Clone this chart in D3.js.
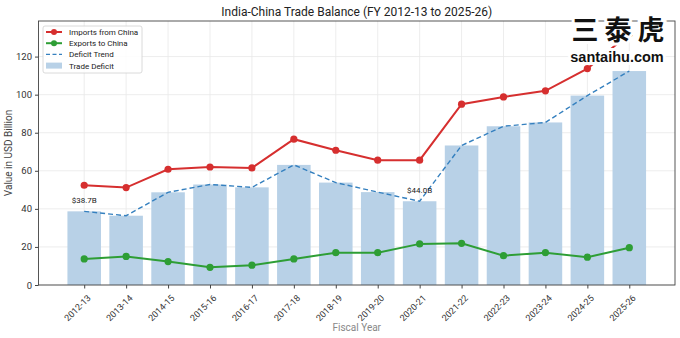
<!DOCTYPE html>
<html><head><meta charset="utf-8">
<script src="https://cdn.jsdelivr.net/npm/d3@7"></script>
<style>body{margin:0;background:#fff}svg{display:block;font-family:Roboto,"Open Sans",sans-serif}</style>
</head><body><svg id="c" width="680" height="338"></svg>
<script>
const categories=["2012-13","2013-14","2014-15","2015-16","2016-17","2017-18","2018-19","2019-20","2020-21","2021-22","2022-23","2023-24","2024-25","2025-26"];
const imports=[52.4,51.2,60.8,62.0,61.5,76.6,70.8,65.6,65.6,95.0,98.8,102.0,113.7,132.0];
const exports=[13.7,15.0,12.3,9.3,10.4,13.7,17.0,17.0,21.6,21.9,15.4,17.0,14.6,19.6];
const deficit=[38.7,36.4,48.7,52.8,51.3,63.1,53.8,48.8,44.0,73.3,83.4,85.4,99.5,112.4];
const yTicks=[0,20,40,60,80,100,120];
const annotations=[{i:0,text:"$38.7B"},{i:8,text:"$44.0B"}];

const svg=d3.select("#c");
const L=38.5,R=675,T=21,B=285;
const x=d3.scaleLinear().domain([-1.09,categories.length-1+1.09]).range([L,R]);
const y=d3.scaleLinear().domain([0,138.7]).range([B,T]);
const step=x(1)-x(0);
const idx=d3.range(categories.length);

// grid
const g=svg.append("g");
g.selectAll(".vg").data(idx).join("line").attr("x1",d=>x(d)).attr("x2",d=>x(d)).attr("y1",T).attr("y2",B).attr("stroke","#e8e8e8").attr("stroke-width",0.8);
g.selectAll(".hg").data(yTicks).join("line").attr("x1",L).attr("x2",R).attr("y1",d=>y(d)).attr("y2",d=>y(d)).attr("stroke","#e8e8e8").attr("stroke-width",0.8);

// bars
svg.append("g").selectAll("rect").data(deficit).join("rect")
 .attr("x",(d,i)=>x(i)-step*0.4).attr("width",step*0.8)
 .attr("y",d=>y(d)).attr("height",d=>B-y(d)).attr("fill","#b8d1e7");

// trend
svg.append("path").datum(deficit).attr("d",d3.line().x((d,i)=>x(i)).y(d=>y(d)))
 .attr("fill","none").attr("stroke","#3580bf").attr("stroke-width",1.4).attr("stroke-dasharray","5,3");

function series(data,color){
 svg.append("path").datum(data).attr("d",d3.line().x((d,i)=>x(i)).y(d=>y(d)))
  .attr("fill","none").attr("stroke",color).attr("stroke-width",2);
 svg.append("g").selectAll("circle").data(data).join("circle")
  .attr("cx",(d,i)=>x(i)).attr("cy",d=>y(d)).attr("r",3.6).attr("fill",color);
}
series(imports,"#d62f2f");
series(exports,"#2e9e35");

// annotations
svg.append("g").selectAll("text").data(annotations).join("text")
 .attr("x",d=>x(d.i)).attr("y",d=>y(deficit[d.i])-8).attr("text-anchor","middle")
 .attr("font-size",8).attr("fill","#222").text(d=>d.text);

// axes
const ya=svg.append("g").attr("transform",`translate(${L},0)`)
 .call(d3.axisLeft(y).tickValues(yTicks).tickSize(3.5).tickPadding(3));
ya.selectAll("text").attr("font-size",9.5).attr("fill","#333").attr("font-family","Roboto");
const xa=svg.append("g").attr("transform",`translate(0,${B})`)
 .call(d3.axisBottom(x).tickValues(idx).tickFormat(i=>categories[i]).tickSize(3.5));
xa.selectAll("text").attr("font-size",9).attr("fill","#333").attr("font-family","Roboto")
 .attr("text-anchor","end").attr("dy","0").attr("transform","translate(2,9) rotate(-45)");
svg.selectAll(".domain").remove();
svg.selectAll(".tick line").attr("stroke","#444");
svg.append("rect").attr("x",L).attr("y",T).attr("width",R-L).attr("height",B-T).attr("fill","none").attr("stroke","#444").attr("stroke-width",0.9);

// titles
svg.append("text").attr("x",(L+R)/2).attr("y",16).attr("text-anchor","middle").attr("font-size",12).attr("fill","#222").text("India-China Trade Balance (FY 2012-13 to 2025-26)");
svg.append("text").attr("x",(L+R)/2).attr("y",331).attr("text-anchor","middle").attr("font-size",10).attr("fill","#888").text("Fiscal Year");
svg.append("text").attr("transform",`translate(12,${(T+B)/2}) rotate(-90)`).attr("text-anchor","middle").attr("font-size",10).attr("fill","#444").text("Value in USD Billion");

// legend
const lg=svg.append("g").attr("transform","translate(43,26)");
lg.append("rect").attr("width",99).attr("height",47).attr("rx",2).attr("fill","#fff").attr("fill-opacity",0.85).attr("stroke","#d0d0d0").attr("stroke-width",0.8);
const items=[{t:"Imports from China",c:"#d62f2f",k:"m"},{t:"Exports to China",c:"#2e9e35",k:"m"},{t:"Deficit Trend",c:"#3580bf",k:"d"},{t:"Trade Deficit",c:"#b8d1e7",k:"b"}];
items.forEach((it,i)=>{
 const yy=6+i*11.2;
 if(it.k==="m"){lg.append("line").attr("x1",3).attr("x2",19).attr("y1",yy).attr("y2",yy).attr("stroke",it.c).attr("stroke-width",2);
  lg.append("circle").attr("cx",11).attr("cy",yy).attr("r",3).attr("fill",it.c);}
 else if(it.k==="d"){lg.append("line").attr("x1",3).attr("x2",19).attr("y1",yy).attr("y2",yy).attr("stroke",it.c).attr("stroke-width",1.4).attr("stroke-dasharray","4,2.5");}
 else {lg.append("rect").attr("x",3).attr("y",yy-3).attr("width",16).attr("height",6).attr("fill",it.c);}
 lg.append("text").attr("x",26).attr("y",yy+3).attr("font-size",8).attr("fill","#222").text(it.t);
});

// watermark
const wm=svg.append("g");
wm.append("text").attr("x",621).attr("y",40).attr("text-anchor","middle").attr("font-size",27).attr("font-weight","bold")
 .attr("font-family","'Noto Sans CJK SC'").attr("letter-spacing",6).attr("fill","#111").attr("stroke","#fff").attr("stroke-width",6).attr("paint-order","stroke").text("三泰虎");
wm.append("text").attr("x",617).attr("y",62).attr("text-anchor","middle").attr("font-size",14.5).attr("font-weight","bold")
 .attr("font-family","'Liberation Sans',Arial").attr("fill","#111").attr("stroke","#fff").attr("stroke-width",6).attr("paint-order","stroke").text("santaihu.com");
</script></body></html>
